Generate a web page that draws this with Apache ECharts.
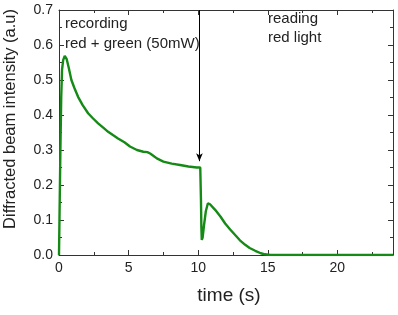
<!DOCTYPE html>
<html><head><meta charset="utf-8">
<script src="https://cdn.jsdelivr.net/npm/echarts@6/dist/echarts.min.js"></script>
<style>html,body{margin:0;padding:0;background:#fff}#c{width:398px;height:315px}</style>
</head><body><div id="c"></div>
<script>
const timeS = [0,0.04,0.1,0.16,0.22,0.3,0.41,0.55,0.7,0.89,1.1,1.37,1.7,2.09,2.45,2.81,3.2,3.53,3.9,4.24,4.7,5.1,5.6,6.06,6.35,6.55,6.8,7.03,7.5,8.1,8.7,9.3,9.9,10.15,10.2,10.23,10.26,10.32,10.42,10.55,10.7,10.85,11.22,11.6,11.94,12.3,12.66,13.0,13.38,13.7,14.1,14.5,14.8,15.2,16,20,24];
const intensity = [0,0.12,0.3,0.45,0.53,0.557,0.569,0.56,0.535,0.50,0.478,0.452,0.428,0.405,0.39,0.376,0.363,0.352,0.342,0.333,0.322,0.31,0.30,0.295,0.294,0.29,0.283,0.276,0.267,0.261,0.257,0.253,0.25,0.25,0.16,0.08,0.043,0.05,0.085,0.125,0.148,0.145,0.129,0.11,0.09,0.073,0.057,0.042,0.029,0.02,0.012,0.005,0.002,0,0,0,0];
const xTicks = [0,5,10,15,20];
const arrowT = 10.09, arrowTop = 0.7, arrowBottom = 0.268;

const font = 'Liberation Sans, Arial, sans-serif';
const axisCol = '#333';
const txtCol = '#222';
const chart = echarts.init(document.getElementById('c'));
const baseX = {
  type:'value', min:0, max:24,
  axisLine:{show:true,onZero:false,lineStyle:{color:axisCol,width:1}},
  axisTick:{show:true,inside:true,length:5,customValues:xTicks,lineStyle:{color:axisCol}},
  minorTick:{show:true,splitNumber:2,length:3,lineStyle:{color:axisCol}},
  splitLine:{show:false}
};
const baseY = {
  type:'value', min:0, max:0.7, interval:0.1,
  axisLine:{show:true,onZero:false,lineStyle:{color:axisCol,width:1}},
  axisTick:{show:true,inside:true,length:5,lineStyle:{color:axisCol}},
  minorTick:{show:true,splitNumber:2,length:3,lineStyle:{color:axisCol}},
  splitLine:{show:false}
};
chart.setOption({
  animation:false,
  grid:{left:59,right:5,top:10,bottom:60},
  xAxis:[
    Object.assign({}, baseX, {position:'bottom',
      axisLabel:{customValues:xTicks,fontFamily:font,fontSize:14,color:txtCol,margin:6}}),
    Object.assign({}, baseX, {position:'top',axisLabel:{show:false}})
  ],
  yAxis:[
    Object.assign({}, baseY, {position:'left',
      axisLabel:{fontFamily:font,fontSize:14,color:txtCol,margin:6,formatter:v=>v.toFixed(1)}}),
    Object.assign({}, baseY, {position:'right',axisLabel:{show:false}})
  ],
  series:[{
    type:'line', xAxisIndex:0, yAxisIndex:0,
    data: timeS.map((t,i)=>[t,intensity[i]]),
    showSymbol:false, symbol:'none',
    lineStyle:{color:'#168a16',width:2.4},
    markLine:{
      silent:true, symbol:['none','arrow'], symbolSize:[5,8],
      label:{show:false},
      lineStyle:{color:'#000',width:1,type:'solid'},
      data:[[{coord:[arrowT,arrowTop]},{coord:[arrowT,arrowBottom]}]]
    }
  }],
  graphic:[
    {type:'text',x:65,y:24,style:{text:'recording',font:'15px '+font,fill:txtCol,verticalAlign:'middle'}},
    {type:'text',x:65,y:44,style:{text:'red + green (50mW)',font:'15px '+font,fill:txtCol,verticalAlign:'middle'}},
    {type:'text',x:268,y:19,style:{text:'reading',font:'15px '+font,fill:txtCol,verticalAlign:'middle'}},
    {type:'text',x:268,y:38,style:{text:'red light',font:'15px '+font,fill:txtCol,verticalAlign:'middle'}},
    {type:'text',x:229,y:296,style:{text:'time (s)',font:'19px '+font,fill:txtCol,align:'center',verticalAlign:'middle'}},
    {type:'text',x:10,y:119,rotation:Math.PI/2,style:{text:'Diffracted beam intensity (a.u)',font:'16.5px '+font,fill:txtCol,align:'center',verticalAlign:'middle'}}
  ]
});
</script></body></html>
